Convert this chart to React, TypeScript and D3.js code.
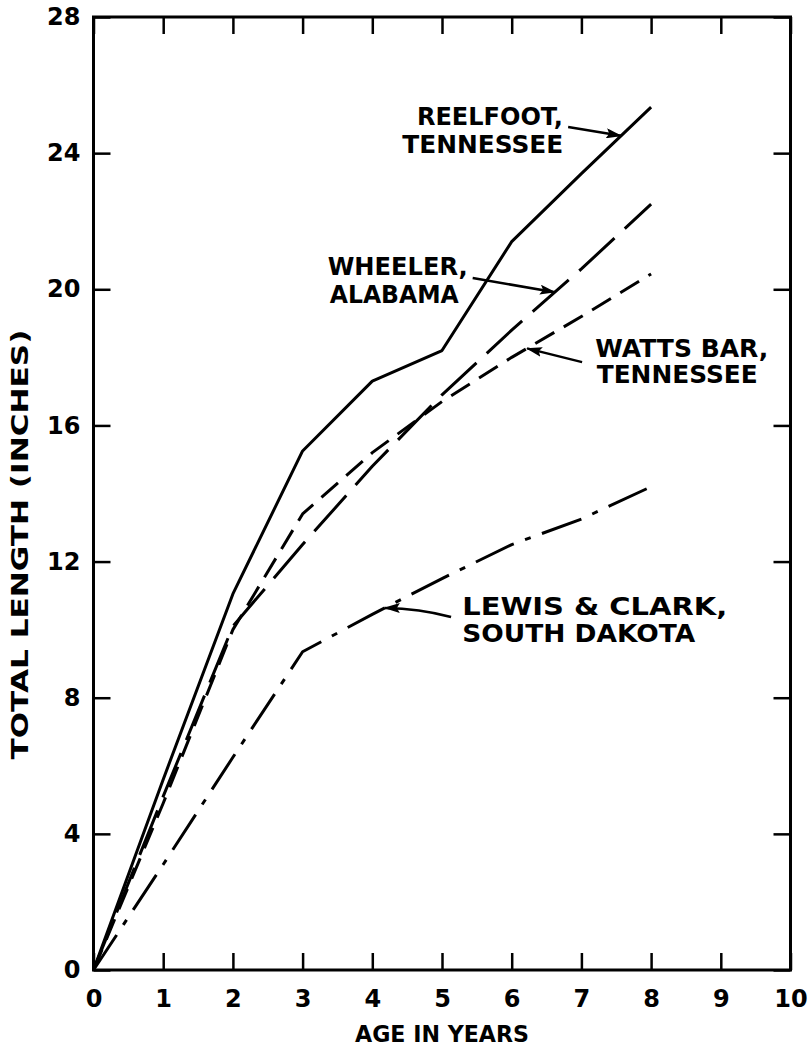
import React, { useEffect, useRef } from "react";
import * as d3 from "d3";

// growth of four populations, total length (inches) by age (years)
const ages = [0, 1, 2, 3, 4, 5, 6, 7, 8];
const reelfoot = [0, 5.6, 11.05, 15.25, 17.3, 18.2, 21.4, 23.4, 25.35];
const wheeler = [0, 5.1, 10.1, 12.5, 14.8, 16.9, 18.8, 20.6, 22.5];
const wattsBar = [0, 4.9, 10.0, 13.4, 15.2, 16.7, 18.0, 19.2, 20.45];
const lewisClark = [0, 3.1, 6.25, 9.35, 10.45, 11.5, 12.5, 13.25, 14.2];

const xTicks = [0, 1, 2, 3, 4, 5, 6, 7, 8, 9, 10];
const yTicks = [0, 4, 8, 12, 16, 20, 24, 28];

const xTitle = "AGE IN YEARS";
const yTitle = "TOTAL LENGTH (INCHES)";

const FONT = "'DejaVu Sans', Verdana, sans-serif";

const series = [
  { key: "reelfoot", values: reelfoot, dash: null },
  { key: "wheeler", values: wheeler, dash: "48,14" },
  { key: "wattsBar", values: wattsBar, dash: "22,11" },
  { key: "lewisClark", values: lewisClark, dash: "42,12,6,12" },
];

// label lines: [text, age, inches of baseline start, width in px]
// arrow: tail [age, inches], tip age on the series, optional bend
const notes = [
  {
    values: reelfoot,
    lines: [["REELFOOT,", 4.64, 24.83, 146], ["TENNESSEE", 4.43, 24.0, 161]],
    tail: [6.81, 24.77], tipAge: 7.57, bend: null,
  },
  {
    values: wheeler,
    lines: [["WHEELER,", 3.36, 20.42, 140], ["ALABAMA", 3.39, 19.6, 129]],
    tail: [5.44, 20.33], tipAge: 6.62, bend: null,
  },
  {
    values: wattsBar,
    lines: [["WATTS BAR,", 7.2, 18.01, 173], ["TENNESSEE", 7.22, 17.25, 161]],
    tail: [7.01, 17.86], tipAge: 6.22, bend: null,
  },
  {
    values: lewisClark,
    lines: [["LEWIS & CLARK,", 5.29, 10.43, 265], ["SOUTH DAKOTA", 5.29, 9.64, 233]],
    tail: [5.13, 10.37], tipAge: 4.18, bend: [4.68, 10.63],
  },
];

function valueAt(values, age) {
  return d3.scaleLinear().domain(ages).range(values)(age);
}

export default function App() {
  const ref = useRef(null);

  useEffect(() => {
    const svg = d3.select(ref.current);
    svg.selectAll("*").remove();

    const x = d3.scaleLinear().domain([0, 10]).range([93.5, 790.5]);
    const y = d3.scaleLinear().domain([0, 28]).range([970, 17]);

    svg.append("defs").append("marker")
      .attr("id", "head")
      .attr("viewBox", "0 0 16 10")
      .attr("refX", 15)
      .attr("refY", 5)
      .attr("markerWidth", 16)
      .attr("markerHeight", 10)
      .attr("markerUnits", "userSpaceOnUse")
      .attr("orient", "auto")
      .append("path")
      .attr("d", "M0,0L16,5L0,10L3,5Z")
      .attr("fill", "#000");

    // axes, ticks pointing inward on all four sides
    const styleAxis = (g) => {
      g.select(".domain").remove();
      g.selectAll(".tick line").attr("stroke", "#000").attr("stroke-width", 2.5);
      g.attr("font-family", FONT).attr("font-size", 24).attr("font-weight", "bold");
      g.selectAll(".tick text").attr("fill", "#000");
    };

    svg.append("g")
      .attr("transform", `translate(0,${y(0)})`)
      .call(d3.axisBottom(x).tickValues(xTicks).tickSizeInner(-17).tickSizeOuter(0).tickPadding(20).tickFormat(d3.format("d")))
      .call(styleAxis);

    svg.append("g")
      .attr("transform", `translate(0,${y(28)})`)
      .call(d3.axisTop(x).tickValues(xTicks).tickSizeInner(-17).tickSizeOuter(0).tickFormat(() => ""))
      .call(styleAxis);

    svg.append("g")
      .attr("transform", `translate(${x(0)},0)`)
      .call(d3.axisLeft(y).tickValues(yTicks).tickSizeInner(-17).tickSizeOuter(0).tickPadding(13).tickFormat(d3.format("d")))
      .call(styleAxis);

    svg.append("g")
      .attr("transform", `translate(${x(10)},0)`)
      .call(d3.axisRight(y).tickValues(yTicks).tickSizeInner(-17).tickSizeOuter(0).tickFormat(() => ""))
      .call(styleAxis);

    svg.append("rect")
      .attr("x", x(0))
      .attr("y", y(28))
      .attr("width", x(10) - x(0))
      .attr("height", y(0) - y(28))
      .attr("fill", "none")
      .attr("stroke", "#000")
      .attr("stroke-width", 3);

    svg.append("text")
      .attr("x", x(5))
      .attr("y", 1042)
      .attr("text-anchor", "middle")
      .attr("font-family", FONT)
      .attr("font-size", 23)
      .attr("font-weight", "bold")
      .attr("textLength", 174)
      .attr("lengthAdjust", "spacingAndGlyphs")
      .text(xTitle);

    svg.append("text")
      .attr("transform", `translate(28,${y(12.5)}) rotate(-90)`)
      .attr("text-anchor", "middle")
      .attr("font-family", FONT)
      .attr("font-size", 23)
      .attr("font-weight", "bold")
      .attr("textLength", 430)
      .attr("lengthAdjust", "spacingAndGlyphs")
      .text(yTitle);

    // curves
    const line = d3.line()
      .x((d) => x(d[0]))
      .y((d) => y(d[1]));

    series.forEach((s) => {
      svg.append("path")
        .datum(ages.map((a, i) => [a, s.values[i]]))
        .attr("d", line)
        .attr("fill", "none")
        .attr("stroke", "#000")
        .attr("stroke-width", 3)
        .attr("stroke-linejoin", "round")
        .attr("stroke-dasharray", s.dash);
    });

    // labels with arrows
    notes.forEach((n) => {
      n.lines.forEach(([txt, a, v, w]) => {
        svg.append("text")
          .attr("x", x(a))
          .attr("y", y(v))
          .attr("font-family", FONT)
          .attr("font-size", 24)
          .attr("font-weight", "bold")
          .attr("textLength", w)
          .attr("lengthAdjust", "spacingAndGlyphs")
          .text(txt);
      });
      const tip = [x(n.tipAge), y(valueAt(n.values, n.tipAge))];
      const tail = [x(n.tail[0]), y(n.tail[1])];
      const p = d3.path();
      p.moveTo(tail[0], tail[1]);
      if (n.bend) p.quadraticCurveTo(x(n.bend[0]), y(n.bend[1]), tip[0], tip[1]);
      else p.lineTo(tip[0], tip[1]);
      svg.append("path")
        .attr("d", p.toString())
        .attr("fill", "none")
        .attr("stroke", "#000")
        .attr("stroke-width", 2.5)
        .attr("marker-end", "url(#head)");
    });
  }, []);

  return (
    <svg
      ref={ref}
      width={808}
      height={1048}
      style={{ position: "absolute", left: 0, top: 0, background: "#fff" }}
    />
  );
}
